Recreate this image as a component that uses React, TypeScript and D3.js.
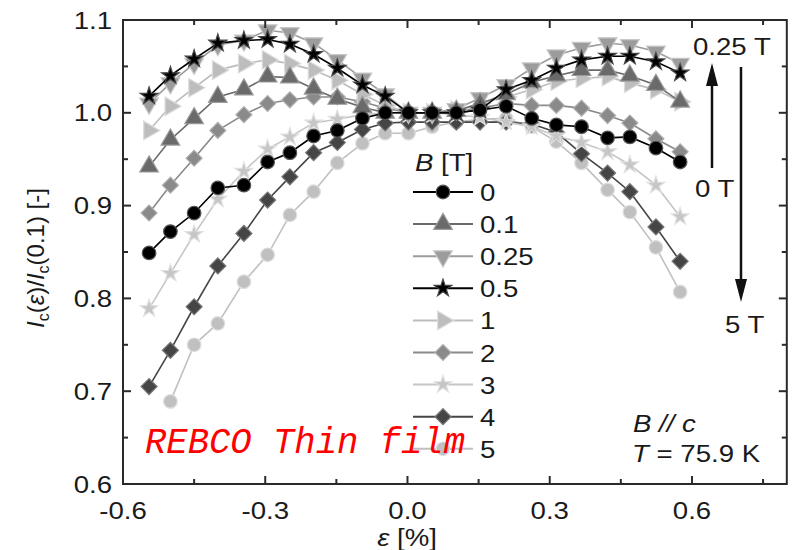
import React from 'react';
import * as d3 from 'd3';

// strain values (%)
const strain = [-0.545, -0.5, -0.45, -0.4, -0.345, -0.295, -0.248, -0.198, -0.148, -0.095, -0.047, 0.002, 0.052, 0.103, 0.153, 0.208, 0.262, 0.314, 0.367, 0.422, 0.469, 0.524, 0.575];

const fieldLabels = ['0', '0.1', '0.25', '0.5', '1', '2', '3', '4', '5'];

const b0 = [0.849, 0.872, 0.892, 0.919, 0.922, 0.947, 0.957, 0.975, 0.981, 0.994, 1.0, 1.0, 1.0, 1.0, 1.003, 1.007, 0.994, 0.987, 0.985, 0.973, 0.974, 0.962, 0.947];
const b01 = [0.942, 0.971, 0.994, 1.017, 1.025, 1.039, 1.038, 1.026, 1.015, 1.006, 1.0, 1.0, 1.0, 1.002, 1.01, 1.02, 1.033, 1.04, 1.046, 1.046, 1.04, 1.03, 1.012];
const b025 = [1.01, 1.032, 1.053, 1.073, 1.078, 1.089, 1.086, 1.075, 1.057, 1.037, 1.02, 1.0, 1.0, 1.004, 1.016, 1.03, 1.048, 1.062, 1.07, 1.075, 1.073, 1.066, 1.053];
const b05 = [1.018, 1.04, 1.058, 1.075, 1.078, 1.079, 1.074, 1.063, 1.048, 1.03, 1.018, 1.0, 1.0, 1.0, 1.003, 1.025, 1.035, 1.048, 1.057, 1.061, 1.061, 1.055, 1.043];
const b1 = [0.981, 1.007, 1.027, 1.046, 1.053, 1.057, 1.053, 1.046, 1.035, 1.02, 1.008, 1.0, 1.0, 1.003, 1.01, 1.017, 1.025, 1.034, 1.037, 1.039, 1.032, 1.025, 1.012];
const b2 = [0.892, 0.922, 0.951, 0.981, 0.998, 1.01, 1.014, 1.017, 1.017, 1.012, 1.005, 1.0, 1.0, 1.002, 1.005, 1.01, 1.008, 1.008, 1.005, 0.997, 0.989, 0.972, 0.958];
const b3 = [0.789, 0.827, 0.869, 0.907, 0.937, 0.961, 0.974, 0.989, 0.993, 0.998, 1.0, 1.0, 1.0, 0.998, 0.995, 0.99, 0.985, 0.975, 0.968, 0.958, 0.944, 0.922, 0.888];
const b4 = [0.705, 0.744, 0.791, 0.835, 0.87, 0.906, 0.931, 0.957, 0.968, 0.982, 0.989, 0.99, 0.99, 0.99, 0.99, 0.99, 0.988, 0.979, 0.956, 0.935, 0.915, 0.877, 0.84];
const b5 = [null, 0.689, 0.75, 0.773, 0.818, 0.847, 0.89, 0.915, 0.946, 0.967, 0.978, 0.978, 0.985, 0.99, 0.993, 0.994, 0.985, 0.969, 0.946, 0.917, 0.893, 0.855, 0.807];

const xMajorTicks = [-0.6, -0.3, 0.0, 0.3, 0.6];
const xMinorTicks = [-0.45, -0.15, 0.15, 0.45, 0.75];
const yMajorTicks = [0.6, 0.7, 0.8, 0.9, 1.0, 1.1];
const yMinorTicks = [0.65, 0.75, 0.85, 0.95, 1.05];

type Shape = 'circle' | 'up' | 'down' | 'star' | 'right' | 'diamond';
const seriesValues = [b0, b01, b025, b05, b1, b2, b3, b4, b5];
const seriesShapes: Shape[] = ['circle', 'up', 'down', 'star', 'right', 'diamond', 'star', 'diamond', 'circle'];
const seriesColors = ['#000000', '#6a6a6a', '#9c9c9c', '#000000', '#bdbdbd', '#8a8a8a', '#c6c6c6', '#454545', '#c0c0c0'];
const seriesEdges = ['#555555', '#9a9a9a', '#c8c8c8', '#444444', '#dddddd', '#b0b0b0', '#e0e0e0', '#777777', '#dedede'];
const drawOrder = [8, 7, 6, 5, 4, 2, 1, 3, 0];

const W = 792, H = 550;
const x = d3.scaleLinear().domain([-0.6, 0.8]).range([123, 786.8]);
const y = d3.scaleLinear().domain([0.6, 1.1]).range([484, 20]);

function symbolPath(shape: Shape): { d: string; rot: number } {
  switch (shape) {
    case 'circle': return { d: d3.symbol(d3.symbolCircle, 145)() as string, rot: 0 };
    case 'up': return { d: d3.symbol(d3.symbolTriangle, 150)() as string, rot: 0 };
    case 'down': return { d: d3.symbol(d3.symbolTriangle, 150)() as string, rot: 180 };
    case 'right': return { d: d3.symbol(d3.symbolTriangle, 150)() as string, rot: 90 };
    case 'star': return { d: d3.symbol(d3.symbolStar, 95)() as string, rot: 0 };
    case 'diamond': return { d: d3.symbol(d3.symbolSquare, 128)() as string, rot: 45 };
  }
}

const FONT = '"Liberation Sans", Arial, Helvetica, sans-serif';
const SX = 1.15;

function Txt(props: { x: number; y: number; anchor?: string; size?: number; sx?: number; children: React.ReactNode; fill?: string }) {
  const { x: tx, y: ty, anchor = 'start', size = 24, sx = SX, children, fill = '#1a1a1a' } = props;
  return (
    <text transform={`translate(${tx},${ty}) scale(${sx},1)`} textAnchor={anchor as any} fontSize={size} fontFamily={FONT} fill={fill}>
      {children}
    </text>
  );
}

export default function App() {
  const line = d3.line<[number, number | null]>()
    .defined(d => d[1] !== null)
    .x(d => x(d[0]))
    .y(d => y(d[1] as number));

  const legendTop = 192;
  const legendStep = 32.1;

  return (
    <svg width={W} height={H} style={{ position: 'absolute', left: 0, top: 0, background: '#fff' }}>
      <rect x={0} y={0} width={W} height={H} fill="#fff" />

      {/* series */}
      {drawOrder.map(i => {
        const vals = seriesValues[i];
        const pts = strain.map((s, k) => [s, vals[k]] as [number, number | null]);
        const sym = symbolPath(seriesShapes[i]);
        return (
          <g key={i}>
            <path d={line(pts) as string} fill="none" stroke={seriesColors[i]} strokeWidth={1.6} />
            {pts.filter(p => p[1] !== null).map((p, k) => (
              <path key={k} d={sym.d}
                transform={`translate(${x(p[0])},${y(p[1] as number)}) rotate(${sym.rot})`}
                fill={seriesColors[i]} stroke={seriesEdges[i]} strokeWidth={1.2} />
            ))}
          </g>
        );
      })}

      {/* frame */}
      <rect x={123} y={20} width={786.8 - 123} height={464} fill="none" stroke="#2a2a2a" strokeWidth={2} />

      {/* ticks */}
      {xMajorTicks.map(t => (
        <g key={'xM' + t}>
          <line x1={x(t)} x2={x(t)} y1={484} y2={476} stroke="#2a2a2a" strokeWidth={2} />
          <line x1={x(t)} x2={x(t)} y1={20} y2={28} stroke="#2a2a2a" strokeWidth={2} />
          <Txt x={x(t)} y={519} anchor="middle">{d3.format('.1f')(t).replace('−', '-')}</Txt>
        </g>
      ))}
      {xMinorTicks.map(t => (
        <g key={'xm' + t}>
          <line x1={x(t)} x2={x(t)} y1={484} y2={479} stroke="#2a2a2a" strokeWidth={2} />
          <line x1={x(t)} x2={x(t)} y1={20} y2={25} stroke="#2a2a2a" strokeWidth={2} />
        </g>
      ))}
      {yMajorTicks.map(t => (
        <g key={'yM' + t}>
          <line x1={123} x2={131} y1={y(t)} y2={y(t)} stroke="#2a2a2a" strokeWidth={2} />
          <line x1={786.8} x2={778.8} y1={y(t)} y2={y(t)} stroke="#2a2a2a" strokeWidth={2} />
          <Txt x={112} y={y(t) + 8.5} anchor="end">{d3.format('.1f')(t)}</Txt>
        </g>
      ))}
      {yMinorTicks.map(t => (
        <g key={'ym' + t}>
          <line x1={123} x2={128} y1={y(t)} y2={y(t)} stroke="#2a2a2a" strokeWidth={2} />
          <line x1={786.8} x2={781.8} y1={y(t)} y2={y(t)} stroke="#2a2a2a" strokeWidth={2} />
        </g>
      ))}

      {/* axis titles */}
      <text transform={`translate(407,546) scale(${SX},1)`} textAnchor="middle" fontSize={24} fontFamily={FONT} fill="#1a1a1a">
        <tspan fontStyle="italic">ε</tspan> [%]
      </text>
      <text transform="translate(44,258) rotate(-90)" textAnchor="middle" fontSize={24} fontFamily={FONT} fill="#1a1a1a">
        <tspan fontStyle="italic">I</tspan><tspan fontSize={16} dy={5}>c</tspan><tspan dy={-5}>(</tspan><tspan fontStyle="italic">ε</tspan>)/<tspan fontStyle="italic">I</tspan><tspan fontSize={16} dy={5}>c</tspan><tspan dy={-5}>(0.1) [-]</tspan>
      </text>

      {/* legend */}
      <text transform={`translate(415,171) scale(${SX},1)`} fontSize={24} fontFamily={FONT} fill="#1a1a1a">
        <tspan fontStyle="italic">B</tspan> [T]
      </text>
      {fieldLabels.map((lab, i) => {
        const cy = legendTop + i * legendStep;
        const sym = symbolPath(seriesShapes[i]);
        return (
          <g key={'lg' + i}>
            <line x1={413} x2={473} y1={cy} y2={cy} stroke={seriesColors[i]} strokeWidth={2} />
            <path d={sym.d} transform={`translate(443,${cy}) rotate(${sym.rot})`} fill={seriesColors[i]} stroke={seriesEdges[i]} strokeWidth={1.2} />
            <Txt x={480} y={cy + 9}>{lab}</Txt>
          </g>
        );
      })}

      {/* arrows and field annotations */}
      <Txt x={693} y={55}>0.25 T</Txt>
      <line x1={712} x2={712} y1={168} y2={82} stroke="#111" strokeWidth={2.5} />
      <polygon points="712,63 706,86 718,86" fill="#111" />
      <Txt x={695} y={197}>0 T</Txt>
      <line x1={741} x2={741} y1={67} y2={283} stroke="#111" strokeWidth={2.5} />
      <polygon points="741,302 735,279 747,279" fill="#111" />
      <Txt x={725} y={333}>5 T</Txt>

      {/* conditions */}
      <text transform={`translate(633,432) scale(${SX},1)`} fontSize={24} fontFamily={FONT} fill="#1a1a1a" fontStyle="italic">B // c</text>
      <text transform={`translate(632,462) scale(${SX},1)`} fontSize={24} fontFamily={FONT} fill="#1a1a1a">
        <tspan fontStyle="italic">T</tspan> = 75.9 K
      </text>

      {/* sample label */}
      <text x={145} y={453} fontSize={37} fontFamily='"Liberation Mono", "DejaVu Sans Mono", monospace' fontStyle="italic" fill="#ff0000" textLength={320} lengthAdjust="spacingAndGlyphs">REBCO Thin film</text>
    </svg>
  );
}
